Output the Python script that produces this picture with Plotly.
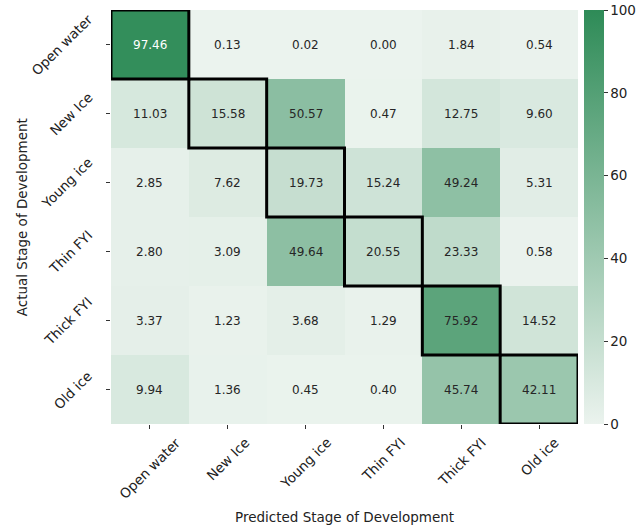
import plotly.graph_objects as go

labels = ["Open water", "New Ice", "Young ice", "Thin FYI", "Thick FYI", "Old ice"]
row_open_water = [97.46, 0.13, 0.02, 0.00, 1.84, 0.54]
row_new_ice = [11.03, 15.58, 50.57, 0.47, 12.75, 9.60]
row_young_ice = [2.85, 7.62, 19.73, 15.24, 49.24, 5.31]
row_thin_fyi = [2.80, 3.09, 49.64, 20.55, 23.33, 0.58]
row_thick_fyi = [3.37, 1.23, 3.68, 1.29, 75.92, 14.52]
row_old_ice = [9.94, 1.36, 0.45, 0.40, 45.74, 42.11]
z = [row_open_water, row_new_ice, row_young_ice, row_thin_fyi, row_thick_fyi, row_old_ice]
colorbar_ticks = [0, 20, 40, 60, 80, 100]

colorscale = [[0.0, "#ebf3ee"], [1.0, "#2e8b57"]]
FONT = "DejaVu Sans"
TXT = "#222222"

fig = go.Figure()
fig.add_trace(go.Heatmap(
    z=z, x=list(range(6)), y=list(range(6)),
    zmin=0, zmax=100, colorscale=colorscale,
    colorbar=dict(
        x=1.013, xanchor="left", xref="paper", y=0.5, yanchor="middle", len=1, lenmode="fraction",
        thickness=20, outlinewidth=0, xpad=0, ypad=0,
        tickmode="array", tickvals=colorbar_ticks,
        ticks="outside", ticklen=4, tickcolor="#333",
        ticklabeloverflow="allow",
        tickfont=dict(family=FONT, size=13.5, color=TXT),
    ),
    hoverinfo="skip",
))

for i, row in enumerate(z):
    for j, v in enumerate(row):
        fig.add_annotation(
            x=j, y=i, text=f"{v:.2f}", showarrow=False,
            font=dict(family=FONT, size=12, color="white" if v > 85 else "#262626"),
        )

# rotated tick labels (matplotlib-style anchoring)
for j, lab in enumerate(labels):
    fig.add_annotation(x=j, xref="x", y=-0.018, yref="paper", text=lab, textangle=-45,
                       xanchor="center", yanchor="top", showarrow=False,
                       font=dict(family=FONT, size=13.5, color=TXT))
for i, lab in enumerate(labels):
    fig.add_annotation(x=-0.028, xref="paper", y=i, yref="y", text=lab, textangle=-45,
                       xanchor="right", yanchor="middle", showarrow=False,
                       font=dict(family=FONT, size=13.5, color=TXT))

fig.add_annotation(x=0.5, xref="paper", y=-0.2246, yref="paper", text="Predicted Stage of Development",
                   xanchor="center", yanchor="middle", showarrow=False,
                   font=dict(family=FONT, size=13.5, color=TXT))
fig.add_annotation(x=-0.19, xref="paper", y=0.5, yref="paper", text="Actual Stage of Development",
                   textangle=-90, xanchor="center", yanchor="middle", showarrow=False,
                   font=dict(family=FONT, size=13.5, color=TXT))

for k in range(6):
    fig.add_shape(type="rect", x0=k - 0.5, x1=k + 0.5, y0=k - 0.5, y1=k + 0.5,
                  line=dict(color="black", width=3), xref="x", yref="y")

fig.update_xaxes(
    tickmode="array", tickvals=list(range(6)), showticklabels=False,
    range=[-0.5, 5.5], showgrid=False, zeroline=False, automargin=False,
    ticks="outside", ticklen=4, tickcolor="#333",
)
fig.update_yaxes(
    tickmode="array", tickvals=list(range(6)), showticklabels=False,
    range=[5.5, -0.5], showgrid=False, zeroline=False, automargin=False,
    ticks="outside", ticklen=4, tickcolor="#333",
)

fig.update_layout(
    width=643, height=529,
    margin=dict(l=111, r=65, t=10, b=105, autoexpand=False),
    plot_bgcolor="white", paper_bgcolor="white",
    showlegend=False,
)

# remove the browser's default 8px body margin so the figure fills the window exactly
fig.write_html("out.html", config={"displayModeBar": False},
               post_script="document.body.style.margin='0';")
